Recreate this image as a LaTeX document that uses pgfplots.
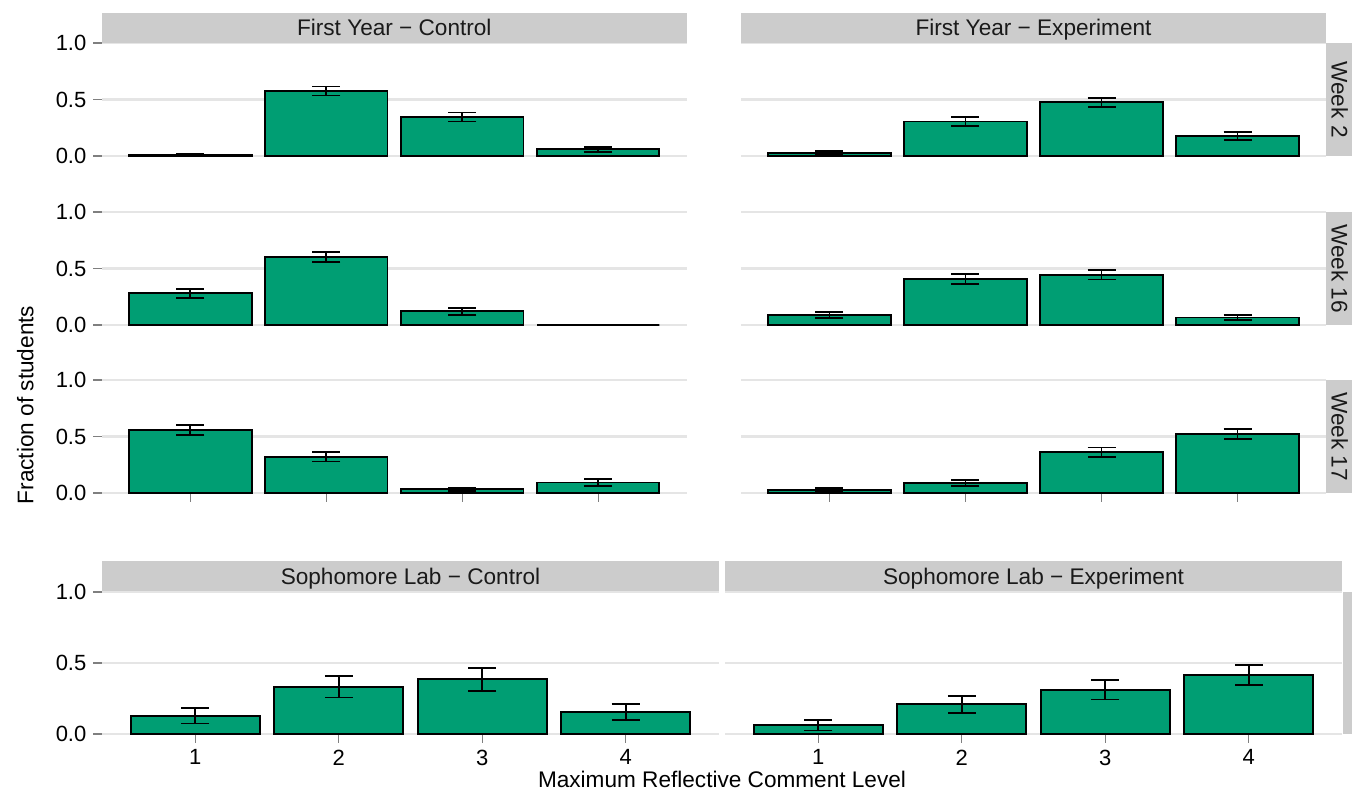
\documentclass[border=0pt]{standalone}
\usepackage{fontspec}
\setmainfont{Liberation Sans}
\usepackage{pgfplots}
\pgfplotsset{compat=1.18}
\definecolor{barc}{HTML}{009E73}
\definecolor{stripc}{HTML}{CCCCCC}
\definecolor{gridc}{HTML}{E5E5E5}
\definecolor{tickc}{HTML}{7F7F7F}
\definecolor{stript}{HTML}{1A1A1A}
\newcommand{\fs}{\fontsize{11}{13}\selectfont}
\newcommand{\fl}{\fontsize{11.3}{13}\selectfont}
\pgfplotsset{
  panel/.style={
    scale only axis, clip=false,
    xmin=0.35, xmax=4.65, ymin=0, ymax=1,
    axis line style={draw=none},
    ymajorgrids, major grid style={color=gridc, line width=1.3pt},
    ytick={0,0.5,1}, yticklabels={0.0,0.5,1.0},
    tick align=outside, major tick length=4.3pt,
    tick style={color=tickc, line width=0.6pt},
    xtick pos=bottom, ytick pos=left,
    xtick={1,2,3,4}, xticklabels={1,2,3,4},
    ticklabel style={font=\fs, text=black},
    anchor=south west,
  },
  noyl/.style={yticklabels={}, ytick style={draw=none}},
  noxt/.style={xtick=\empty},
  noxl/.style={xticklabels={}},
  bars/.style={ybar, bar width=0.9, fill=barc, draw=black, line width=0.95pt,
    error bars/.cd, y dir=both, y explicit, error mark=|,
    error bar style={black, line width=0.9pt},
    error mark options={black, line width=0.9pt, mark size=7pt}},
}
\begin{document}
\begin{tikzpicture}
\useasboundingbox (0,0) rectangle (676pt,394.5pt);
\clip (0,0) rectangle (676pt,394.5pt);
% ---------- First Year Control ----------
\begin{axis}[panel, noxt, at={(51pt,316.5pt)}, width=292.3pt, height=56.5pt]
\addplot[bars] table[x=x,y=y,y error=e,row sep=\\]{x y e\\1 0.012 0.010\\2 0.575 0.040\\3 0.345 0.040\\4 0.060 0.023\\};
\end{axis}
\begin{axis}[panel, noxt, at={(51pt,232pt)}, width=292.3pt, height=56.5pt]
\addplot[bars] table[x=x,y=y,y error=e,row sep=\\]{x y e\\1 0.280 0.040\\2 0.600 0.043\\3 0.122 0.031\\4 0.000 0.000\\};
\end{axis}
\begin{axis}[panel, noxl, at={(51pt,148pt)}, width=292.3pt, height=56.5pt]
\addplot[bars] table[x=x,y=y,y error=e,row sep=\\]{x y e\\1 0.560 0.044\\2 0.322 0.043\\3 0.033 0.015\\4 0.093 0.028\\};
\end{axis}
% ---------- First Year Experiment ----------
\begin{axis}[panel, noxt, noyl, at={(370.5pt,316.5pt)}, width=292.5pt, height=56.5pt]
\addplot[bars] table[x=x,y=y,y error=e,row sep=\\]{x y e\\1 0.028 0.018\\2 0.305 0.038\\3 0.475 0.041\\4 0.178 0.034\\};
\end{axis}
\begin{axis}[panel, noxt, noyl, at={(370.5pt,232pt)}, width=292.5pt, height=56.5pt]
\addplot[bars] table[x=x,y=y,y error=e,row sep=\\]{x y e\\1 0.088 0.026\\2 0.410 0.044\\3 0.445 0.043\\4 0.066 0.022\\};
\end{axis}
\begin{axis}[panel, noxl, noyl, at={(370.5pt,148pt)}, width=292.5pt, height=56.5pt]
\addplot[bars] table[x=x,y=y,y error=e,row sep=\\]{x y e\\1 0.027 0.017\\2 0.088 0.028\\3 0.360 0.043\\4 0.520 0.044\\};
\end{axis}
% ---------- Sophomore Lab ----------
\begin{axis}[panel, at={(51pt,27.5pt)}, width=308.5pt, height=71pt]
\addplot[bars] table[x=x,y=y,y error=e,row sep=\\]{x y e\\1 0.128 0.054\\2 0.334 0.077\\3 0.385 0.080\\4 0.154 0.058\\};
\end{axis}
\begin{axis}[panel, noyl, at={(362.5pt,27.5pt)}, width=308.5pt, height=71pt]
\addplot[bars] table[x=x,y=y,y error=e,row sep=\\]{x y e\\1 0.061 0.036\\2 0.209 0.060\\3 0.311 0.068\\4 0.416 0.070\\};
\end{axis}
% ---------- strips ----------
\fill[stripc] (51pt,373pt) rectangle (343.3pt,388pt);
\fill[stripc] (370.5pt,373pt) rectangle (663pt,388pt);
\node[anchor=base, text=stript, font=\fl, inner sep=0pt] at (197.15pt,376.5pt) {First Year − Control};
\node[anchor=base, text=stript, font=\fl, inner sep=0pt] at (516.75pt,376.5pt) {First Year − Experiment};
\fill[stripc] (663pt,316.5pt) rectangle (680pt,373pt);
\fill[stripc] (663pt,232pt) rectangle (680pt,288.5pt);
\fill[stripc] (663pt,148pt) rectangle (680pt,204.5pt);
\node[anchor=base, rotate=-90, text=stript, font=\fl, inner sep=0pt] at (665.8pt,344.75pt) {Week 2};
\node[anchor=base, rotate=-90, text=stript, font=\fl, inner sep=0pt] at (665.8pt,260.25pt) {Week 16};
\node[anchor=base, rotate=-90, text=stript, font=\fl, inner sep=0pt] at (665.8pt,176.25pt) {Week 17};
\fill[stripc] (51pt,99pt) rectangle (359.5pt,114pt);
\fill[stripc] (362.5pt,99pt) rectangle (671pt,114pt);
\node[anchor=base, text=stript, font=\fl, inner sep=0pt] at (205.25pt,102.35pt) {Sophomore Lab − Control};
\node[anchor=base, text=stript, font=\fl, inner sep=0pt] at (516.75pt,102.35pt) {Sophomore Lab − Experiment};
\fill[stripc] (671.5pt,27.5pt) rectangle (690pt,98.5pt);
% ---------- axis titles ----------
\node[anchor=base, rotate=90, font=\fl, inner sep=0pt] at (16.75pt,192pt) {Fraction of students};
\node[anchor=base, font=\fl, inner sep=0pt] at (361pt,1pt) {Maximum Reflective Comment Level};
\end{tikzpicture}
\end{document}
